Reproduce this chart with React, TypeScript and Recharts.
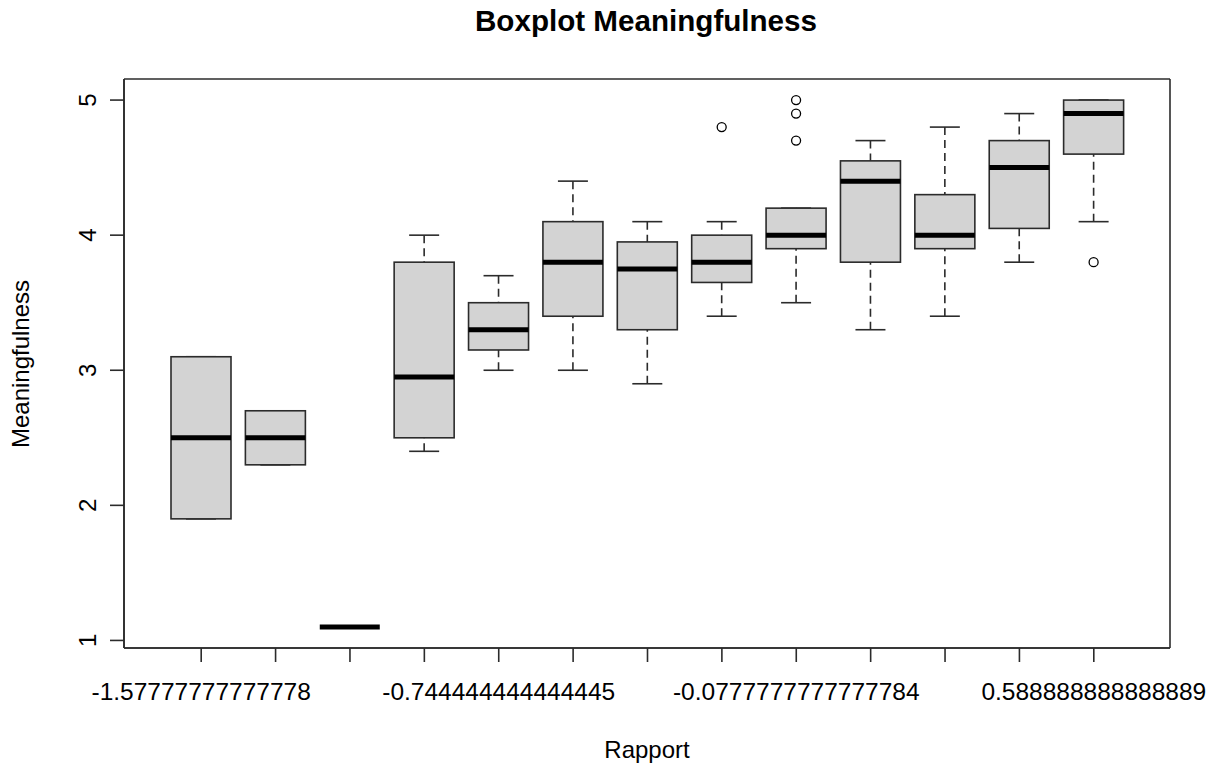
import React from 'react';
import { ComposedChart, Bar, XAxis, YAxis, CartesianGrid } from 'recharts';

// groups (Rapport values), R only prints every 4th label
const categories = [
    '-1.57777777777778',
    '-1.41111111111111',
    '-1.24444444444444',
    '-0.911111111111111',
    '-0.744444444444445',
    '-0.577777777777778',
    '-0.411111111111111',
    '-0.244444444444445',
    '-0.0777777777777784',
    '0.0888888888888889',
    '0.255555555555556',
    '0.422222222222222',
    '0.588888888888889',
];
const shownLabels = [0, 4, 8, 12];

// five-number summaries per group
const whiskerLow = [1.9, 2.3, 1.1, 2.4, 3.0, 3.0, 2.9, 3.4, 3.5, 3.3, 3.4, 3.8, 4.1];
const q1 = [1.9, 2.3, 1.1, 2.5, 3.15, 3.4, 3.3, 3.65, 3.9, 3.8, 3.9, 4.05, 4.6];
const median = [2.5, 2.5, 1.1, 2.95, 3.3, 3.8, 3.75, 3.8, 4.0, 4.4, 4.0, 4.5, 4.9];
const q3 = [3.1, 2.7, 1.1, 3.8, 3.5, 4.1, 3.95, 4.0, 4.2, 4.55, 4.3, 4.7, 5.0];
const whiskerHigh = [3.1, 2.7, 1.1, 4.0, 3.7, 4.4, 4.1, 4.1, 4.2, 4.7, 4.8, 4.9, 5.0];
const outliers: number[][] = [[], [], [], [], [], [], [], [4.8], [5.0, 4.9, 4.7], [], [], [], [3.8]];

const yTicks = [1, 2, 3, 4, 5];

// R extends the data range by 4% on each side
const Y_MIN = 1.1 - 0.04 * 3.9;
const Y_MAX = 5.0 + 0.04 * 3.9;

const FONT = '"Liberation Sans", Arial, sans-serif';
const INK = '#2b2b2b';

const data = categories.map((name, i) => ({
    name,
    idx: i,
    lo: whiskerLow[i],
    q1: q1[i],
    med: median[i],
    q3: q3[i],
    hi: whiskerHigh[i],
    out: outliers[i],
}));

const BoxShape = (props: any) => {
    const { x, y, width, height } = props;
    const d = props.payload ?? data[props.index];
    // the bar spans the full y domain, so use it to map values to pixels
    const toY = (v: number) => y + ((Y_MAX - v) / (Y_MAX - Y_MIN)) * height;
    const cx = x + width / 2;
    const cap = width / 4;
    return (
        <g>
            <line x1={cx} x2={cx} y1={toY(d.hi)} y2={toY(d.q3)} stroke={INK} strokeWidth={1.6} strokeDasharray="8 5" />
            <line x1={cx} x2={cx} y1={toY(d.lo)} y2={toY(d.q1)} stroke={INK} strokeWidth={1.6} strokeDasharray="8 5" />
            <line x1={cx - cap} x2={cx + cap} y1={toY(d.hi)} y2={toY(d.hi)} stroke={INK} strokeWidth={1.6} />
            <line x1={cx - cap} x2={cx + cap} y1={toY(d.lo)} y2={toY(d.lo)} stroke={INK} strokeWidth={1.6} />
            {d.q3 > d.q1 && (
                <rect
                    x={x}
                    y={toY(d.q3)}
                    width={width}
                    height={toY(d.q1) - toY(d.q3)}
                    fill="#d3d3d3"
                    stroke={INK}
                    strokeWidth={1.6}
                />
            )}
            <line x1={x} x2={x + width} y1={toY(d.med)} y2={toY(d.med)} stroke="#000" strokeWidth={5} />
            {d.out.map((v: number, k: number) => (
                <circle key={k} cx={cx} cy={toY(v)} r={4.5} fill="none" stroke="#000" strokeWidth={1.3} />
            ))}
        </g>
    );
};

const XTick = (props: any) => {
    const { x, y, payload, index } = props;
    if (!shownLabels.includes(index)) return null;
    return (
        <text x={x} y={y + 36} textAnchor="middle" fontSize={24.5} fontFamily={FONT} fill="#000">
            {payload.value}
        </text>
    );
};

const YTick = (props: any) => {
    const { x, y, payload } = props;
    return (
        <text
            x={x - 12}
            y={y}
            textAnchor="middle"
            fontSize={24}
            fontFamily={FONT}
            fill="#000"
            transform={`rotate(-90, ${x - 12}, ${y})`}
        >
            {payload.value}
        </text>
    );
};

export default function App() {
    return (
        <div style={{ position: 'absolute', left: 0, top: 0, width: 1217, height: 773, background: '#fff' }}>
            <ComposedChart
                width={1217}
                height={773}
                data={data}
                margin={{ top: 79, right: 47, bottom: 0, left: 0 }}
            >
                {/* box around the plot region */}
                <CartesianGrid
                    stroke={INK}
                    strokeWidth={1.6}
                    horizontalCoordinatesGenerator={({ offset }: any) => [offset.top, offset.top + offset.height]}
                    verticalCoordinatesGenerator={({ offset }: any) => [offset.left, offset.left + offset.width]}
                />
                <XAxis
                    dataKey="name"
                    type="category"
                    interval={0}
                    height={125}
                    padding={{ left: 40, right: 39 }}
                    tickSize={14}
                    tick={<XTick />}
                    tickLine={{ stroke: INK, strokeWidth: 1.6 }}
                    axisLine={{ stroke: INK, strokeWidth: 1.6 }}
                />
                <YAxis
                    type="number"
                    domain={[Y_MIN, Y_MAX]}
                    allowDataOverflow
                    ticks={yTicks}
                    width={124}
                    tickSize={14}
                    tick={<YTick />}
                    tickLine={{ stroke: INK, strokeWidth: 1.6 }}
                    axisLine={{ stroke: INK, strokeWidth: 1.6 }}
                />
                <Bar
                    dataKey={() => [Y_MIN, Y_MAX]}
                    barSize={60}
                    shape={<BoxShape />}
                    isAnimationActive={false}
                />
            </ComposedChart>
            <svg width={1217} height={773} style={{ position: 'absolute', left: 0, top: 0, pointerEvents: 'none' }}>
                <text x={646} y={31} textAnchor="middle" fontSize={29.6} fontWeight="bold" fontFamily={FONT}>
                    Boxplot Meaningfulness
                </text>
                <text x={647} y={758} textAnchor="middle" fontSize={24} fontFamily={FONT}>
                    Rapport
                </text>
                <text
                    x={29}
                    y={364}
                    textAnchor="middle"
                    fontSize={24}
                    fontFamily={FONT}
                    transform="rotate(-90, 29, 364)"
                >
                    Meaningfulness
                </text>
            </svg>
        </div>
    );
}
